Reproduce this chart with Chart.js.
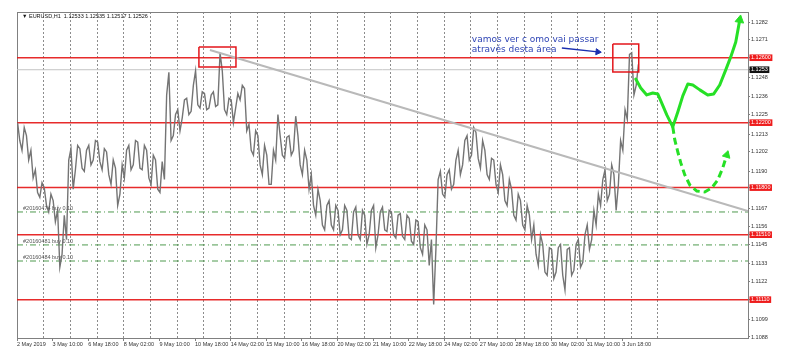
<!DOCTYPE html>
<html><head><meta charset="utf-8">
<script src="https://cdn.jsdelivr.net/npm/chart.js@4.4.1/dist/chart.umd.min.js"></script>
<style>html,body{margin:0;padding:0;background:#fff}#wrap{width:791px;height:358px}</style>
</head><body><div id="wrap"><canvas id="c" width="791" height="358"></canvas></div>
<script>
// ---------------- data ----------------
const symbolTitle = "\u25BC EURUSD,H1  1.12533 1.12535 1.12517 1.12526";
const xTickLabels = ["2 May 2019","3 May 10:00","6 May 18:00","8 May 02:00","9 May 10:00","10 May 18:00","14 May 02:00","15 May 10:00","16 May 18:00","20 May 02:00","21 May 10:00","22 May 18:00","24 May 02:00","27 May 10:00","28 May 18:00","30 May 02:00","31 May 10:00","3 Jun 18:00"];
const barsPerLabel = 32;      // H1 bars between time labels
const barsPerGridLine = 24;   // H1 bars between vertical grid lines
const gridLineCount = 24;
const barsPerGroup = 4;       // each high/low pair covers 4 H1 bars
const totalBarSlots = 657;    // bars + right shift
// high / low of each 4-hour group
const highs = [1.1220,1.1217,1.1212,1.1203,1.1191,1.1183,1.1180,1.1176,1.1172,1.1166,
1.1163,1.1197,1.1204,1.1206,1.1204,1.1203,1.1206,1.1209,1.1208,1.1204,
1.1202,1.1197,1.1192,1.1194,1.1203,1.1206,1.1209,1.1208,1.1206,1.1203,
1.1200,1.1197,1.1196,1.1237,1.1251,1.1225,1.1228,1.1234,1.1235,1.1243,
1.1252,1.1239,1.1238,1.1237,1.1239,1.1263,1.1252,1.1235,1.1234,1.1238,
1.1243,1.1241,1.1219,1.1215,1.1212,1.1206,1.1200,1.1203,1.1225,1.1212,
1.1211,1.1212,1.1224,1.1212,1.1203,1.1197,1.1188,1.1179,1.1172,1.1169,
1.1172,1.1169,1.1166,1.1169,1.1166,1.1165,1.1168,1.1166,1.1163,1.1166,
1.1169,1.1165,1.1168,1.1166,1.1165,1.1163,1.1164,1.1163,1.1161,1.1160,
1.1159,1.1157,1.1154,1.1148,1.1185,1.1190,1.1188,1.1191,1.1197,1.1203,
1.1209,1.1212,1.1217,1.1214,1.1209,1.1203,1.1198,1.1197,1.1194,1.1188,
1.1185,1.1179,1.1176,1.1172,1.1169,1.1163,1.1157,1.1151,1.1145,1.1143,
1.1142,1.1143,1.1145,1.1142,1.1143,1.1145,1.1148,1.1151,1.1157,1.1166,
1.1176,1.1185,1.1191,1.1194,1.1188,1.1209,1.1228,1.1262,1.1263,1.1256];
const lows = [1.1209,1.1203,1.1197,1.1186,1.1177,1.1174,1.1169,1.1165,1.1159,1.1131,
1.1139,1.1148,1.1179,1.1191,1.1192,1.1190,1.1194,1.1197,1.1196,1.1191,
1.1188,1.1182,1.1169,1.1176,1.1186,1.1191,1.1194,1.1192,1.1191,1.1186,
1.1182,1.1179,1.1177,1.1185,1.1209,1.1212,1.1215,1.1223,1.1225,1.1227,
1.1231,1.1229,1.1228,1.1229,1.1230,1.1231,1.1228,1.1225,1.1220,1.1229,
1.1234,1.1215,1.1203,1.1200,1.1194,1.1188,1.1182,1.1182,1.1197,1.1200,
1.1198,1.1200,1.1203,1.1194,1.1188,1.1179,1.1169,1.1163,1.1157,1.1154,
1.1157,1.1154,1.1151,1.1154,1.1149,1.1148,1.1151,1.1148,1.1145,1.1151,
1.1143,1.1151,1.1154,1.1153,1.1151,1.1149,1.1150,1.1148,1.1147,1.1145,
1.1143,1.1139,1.1132,1.1108,1.1142,1.1176,1.1174,1.1179,1.1182,1.1188,
1.1194,1.1197,1.1200,1.1198,1.1192,1.1188,1.1185,1.1182,1.1177,1.1172,
1.1169,1.1163,1.1160,1.1157,1.1154,1.1148,1.1139,1.1132,1.1128,1.1126,
1.1124,1.1128,1.1126,1.1117,1.1126,1.1129,1.1131,1.1134,1.1142,1.1148,
1.1157,1.1169,1.1172,1.1176,1.1166,1.1182,1.1203,1.1222,1.1237,1.1243];
const yMin = 1.108738, yMax = 1.128816;
const yTickLabels = ["1.1088","1.1099","1.1122","1.1133","1.1145","1.1156","1.1167","1.1190","1.1202","1.1213","1.1225","1.1236","1.1248","1.1271","1.1282"];
const redLevels = [1.12600, 1.12200, 1.11800, 1.11510, 1.11110];
const redLevelLabels = ["1.12600","1.12200","1.11800","1.11510","1.11110"];
const lastPrice = 1.12526;
const lastPriceLabel = "1.1253";
const orderLevels = [1.11650, 1.11447, 1.11348];
const orderLabels = ["#20160474 buy 0.10","#20160481 buy 0.10","#20160484 buy 0.10"];
const trendX = [173.4, 656.8], trendY = [1.12648, 1.11656];
const box1X = [163.5, 196.8], box1Y = [1.12543, 1.12666];
const box2X = [535.5, 558.8], box2Y = [1.12512, 1.12685];
const greenSolidX = [556.1,560.6,566.0,571.4,575.9,579.5,584.0,589.4,593.9,598.4,602.9,607.4,613.7,620.8,626.2,631.6,637.0,641.5,646.0,649.6];
const greenSolidY = [1.12469,1.12414,1.12371,1.12383,1.12377,1.12321,1.12248,1.12174,1.12266,1.12365,1.12438,1.12432,1.12402,1.12371,1.12377,1.12432,1.12525,1.12605,1.12697,1.12833];
const greenDashX = [589.4,591.2,593.9,596.6,600.2,604.7,611.0,618.1,624.4,629.8,634.3,637.9];
const greenDashY = [1.12174,1.12094,1.12020,1.11952,1.11878,1.11816,1.11779,1.11773,1.11798,1.11847,1.11921,1.12001];
const noteLines = ["vamos ver c omo vai passar","atrav\u00e9s desta \u00e1rea"];
const noteX = 408.8, noteY = [1.12710, 1.12648];
const noteArrowX = [489.7, 522.0], noteArrowY = [1.12660, 1.12636];
const orderLabelX = 5.4;

// ---------------- build ----------------
const pts = (xs, ys) => xs.map((v, i) => ({x: v, y: ys[i]}));
const rect = (bx, by) => [{x:bx[0],y:by[1]},{x:bx[1],y:by[1]},{x:bx[1],y:by[0]},{x:bx[0],y:by[0]},{x:bx[0],y:by[1]}];
const hline = v => [{x:0,y:v},{x:totalBarSlots,y:v}];
// price path: each group's high and low, visited in the order nearest to the previous extreme
const pricePath = [];
let lastY = null;
highs.forEach((h, g) => {
  const l = lows[g], x0 = g*barsPerGroup + 0.5, x1 = g*barsPerGroup + 2.5;
  const lowFirst = lastY !== null && Math.abs(lastY - l) < Math.abs(lastY - h);
  const a = lowFirst ? l : h, b = lowFirst ? h : l;
  pricePath.push({x: x0, y: a}, {x: x1, y: b});
  lastY = b;
});

const yTicks = yTickLabels.map(l => ({v: parseFloat(l), label: l, bg: null}))
  .concat(redLevels.map((v, i) => ({v, label: redLevelLabels[i], bg: '#ee1c1c'})))
  .concat([{v: lastPrice, label: lastPriceLabel, bg: '#111111'}]);
const gridTicks = Array.from({length: gridLineCount}, (_, k) => (k+1)*barsPerGridLine);

const font55 = {family: '"Liberation Sans", Arial, sans-serif', size: 5.5};
const lineDs = (data, color, width, extra) => Object.assign({type:'line', data, borderColor: color, borderWidth: width, pointRadius: 0, tension: 0, fill: false, xAxisID:'x', yAxisID:'y'}, extra || {});
const arrowHead = (n, rot, r, color) => ({pointRadius: c => c.dataIndex === n-1 ? r : 0, pointStyle: 'triangle', pointRotation: rot, pointBackgroundColor: color, pointBorderColor: color, pointBorderWidth: 1});

const datasets = [];
redLevels.forEach(v => datasets.push(lineDs(hline(v), 'rgba(228,20,20,0.9)', 1.5, {order: 8})));
datasets.push(lineDs(hline(lastPrice), '#c4c4c4', 1, {order: 8}));
orderLevels.forEach(v => datasets.push(lineDs(hline(v), '#4f9a4f', 1, {order: 8, borderDash: [6,3,1,3]})));
datasets.push(lineDs(pricePath, '#747474', 1.4, {order: 6, borderJoinStyle: 'miter'}));
datasets.push(lineDs(pts(trendX, trendY), '#b9b9b9', 2, {order: 5}));
datasets.push(lineDs(rect(box1X, box1Y), '#e3161b', 1.5, {order: 4}));
datasets.push(lineDs(rect(box2X, box2Y), '#e3161b', 1.5, {order: 4}));
datasets.push(lineDs(pts(greenSolidX, greenSolidY), '#26e026', 3, Object.assign({order: 2, borderJoinStyle:'round', borderCapStyle:'round'}, arrowHead(greenSolidX.length, 10, 5, '#26e026'))));
datasets.push(lineDs(pts(greenDashX, greenDashY), '#26e026', 3, Object.assign({order: 2, borderDash:[7,4]}, arrowHead(greenDashX.length, 17, 4.5, '#26e026'))));
datasets.push(lineDs(pts(noteArrowX, noteArrowY), '#1a2fb0', 1.5, Object.assign({order: 1}, arrowHead(noteArrowX.length, 96, 3.5, '#1a2fb0'))));

const textPlugin = {
  id: 'texts',
  afterDatasetsDraw(chart) {
    const {ctx, chartArea, scales: {x, y}} = chart;
    ctx.save();
    ctx.font = '5.5px "Liberation Sans", "DejaVu Sans", sans-serif';
    ctx.fillStyle = '#111';
    ctx.textBaseline = 'middle';
    ctx.textAlign = 'left';
    ctx.fillText(symbolTitle, chartArea.left + 5, chartArea.top + 4.5);
    ctx.fillStyle = '#555';
    ctx.textBaseline = 'bottom';
    orderLevels.forEach((lv, i) => ctx.fillText(orderLabels[i], x.getPixelForValue(orderLabelX), y.getPixelForValue(lv) - 1));
    ctx.font = '9px "DejaVu Sans", sans-serif';
    ctx.fillStyle = '#2f45b5';
    ctx.textBaseline = 'middle';
    noteLines.forEach((t, i) => ctx.fillText(t, x.getPixelForValue(noteX), y.getPixelForValue(noteY[i])));
    ctx.restore();
  }
};

new Chart(document.getElementById('c'), {
  type: 'line',
  data: {datasets},
  plugins: [textPlugin],
  options: {
    responsive: false, animation: false, devicePixelRatio: 1,
    layout: {padding: {left: 17, top: 12, right: 0, bottom: 0}},
    plugins: {legend: {display: false}, tooltip: {enabled: false}, title: {display: false}},
    scales: {
      x: {type: 'linear', position: 'bottom', min: 0, max: totalBarSlots, offset: false,
        afterBuildTicks(s) { s.ticks = xTickLabels.map((_, k) => ({value: k*barsPerLabel})); },
        ticks: {autoSkip: false, maxRotation: 0, minRotation: 0, align: 'start', padding: 0, color: '#333', font: font55, callback: (v, i) => xTickLabels[i]},
        grid: {drawOnChartArea: false, drawTicks: true, tickLength: 3, color: '#808080'},
        border: {display: true, color: '#808080'},
        afterFit(s) { s.height = 20; }},
      xg: {type: 'linear', position: 'bottom', min: 0, max: totalBarSlots, offset: false,
        afterBuildTicks(s) { s.ticks = gridTicks.map(v => ({value: v})); },
        ticks: {display: false},
        grid: {display: true, drawTicks: false, color: '#8c8c8c', lineWidth: 1},
        border: {display: false, dash: [2, 2]},
        afterFit(s) { s.height = 0; }},
      xTop: {type: 'linear', position: 'top', min: 0, max: totalBarSlots,
        ticks: {display: false}, grid: {display: false, drawTicks: false},
        border: {display: true, color: '#808080'},
        afterFit(s) { s.height = 0; }},
      yLeft: {type: 'linear', position: 'left', min: yMin, max: yMax,
        ticks: {display: false}, grid: {display: false, drawTicks: false},
        border: {display: true, color: '#808080'},
        afterFit(s) { s.width = 0; }},
      y: {type: 'linear', position: 'right', min: yMin, max: yMax,
        afterBuildTicks(s) { s.ticks = yTicks.map(t => ({value: t.v})); },
        ticks: {autoSkip: false, padding: 1, font: font55,
          color: c => yTicks[c.index] && yTicks[c.index].bg ? '#ffffff' : '#333333',
          callback: (v, i) => yTicks[i].label,
          showLabelBackdrop: c => !!(yTicks[c.index] && yTicks[c.index].bg),
          backdropColor: c => (yTicks[c.index] && yTicks[c.index].bg) || 'rgba(0,0,0,0)',
          backdropPadding: {x: 1.5, y: 0}},
        grid: {drawOnChartArea: false, drawTicks: true, tickLength: 2, color: '#808080'},
        border: {display: true, color: '#808080'},
        afterFit(s) { s.height = undefined; s.width = 43; }}
    }
  }
});
</script>
</body></html>
